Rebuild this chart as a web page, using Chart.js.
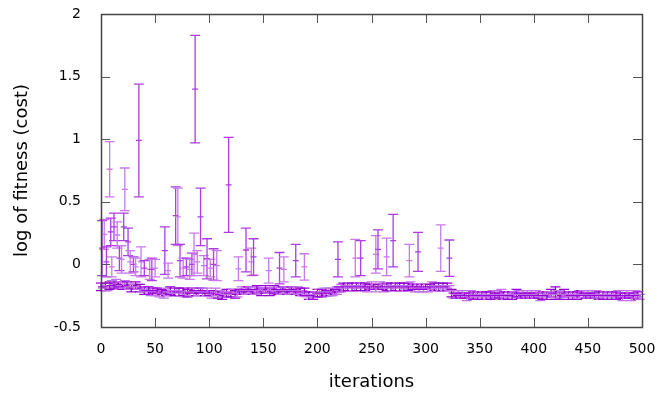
<!DOCTYPE html>
<html>
<head>
<meta charset="utf-8">
<script src="https://cdn.jsdelivr.net/npm/chart.js@4.4.1/dist/chart.umd.min.js"></script>
<style>
  html, body { margin: 0; padding: 0; background: #fff; }
  #wrap { width: 658px; height: 393px; }
</style>
</head>
<body>
<div id="wrap"><canvas id="fitnessChart" width="658" height="393"></canvas></div>
<script>
// baseline run: one value every 2 iterations, starting at 0
var baseStart = 0;
var baseStep = 2;
var baseMean = [
  -0.18,-0.17,-0.18,-0.19,-0.17,-0.16,-0.17,-0.15,-0.16,-0.17,-0.18,-0.16,-0.17,-0.18,-0.19,-0.18,-0.17,-0.18,-0.19,-0.20,-0.21,-0.20,-0.21,-0.22,-0.21,
  -0.22,-0.21,-0.23,-0.22,-0.24,-0.23,-0.22,-0.21,-0.23,-0.22,-0.21,-0.22,-0.23,-0.22,-0.24,-0.23,-0.22,-0.21,-0.22,-0.23,-0.22,-0.21,-0.22,-0.23,-0.22,
  -0.23,-0.24,-0.23,-0.22,-0.24,-0.23,-0.25,-0.24,-0.23,-0.24,-0.23,-0.22,-0.24,-0.23,-0.22,-0.21,-0.22,-0.21,-0.20,-0.21,-0.22,-0.21,-0.20,-0.21,-0.22,
  -0.21,-0.20,-0.21,-0.22,-0.21,-0.20,-0.21,-0.22,-0.21,-0.20,-0.21,-0.22,-0.21,-0.20,-0.21,-0.22,-0.21,-0.22,-0.23,-0.22,-0.24,-0.25,-0.26,-0.25,-0.24,
  -0.23,-0.22,-0.23,-0.22,-0.23,-0.22,-0.23,-0.22,-0.22,-0.21,-0.20,-0.19,-0.18,-0.19,-0.18,-0.17,-0.18,-0.19,-0.18,-0.17,-0.18,-0.17,-0.18,-0.19,-0.18,
  -0.17,-0.18,-0.19,-0.18,-0.17,-0.18,-0.19,-0.18,-0.17,-0.18,-0.19,-0.18,-0.17,-0.18,-0.19,-0.18,-0.19,-0.18,-0.17,-0.18,-0.19,-0.18,-0.19,-0.18,-0.19,
  -0.18,-0.19,-0.18,-0.17,-0.18,-0.19,-0.18,-0.19,-0.18,-0.19,-0.18,-0.19,-0.23,-0.24,-0.25,-0.24,-0.25,-0.24,-0.25,-0.26,-0.25,-0.24,-0.25,-0.24,-0.25,
  -0.24,-0.25,-0.24,-0.25,-0.26,-0.25,-0.24,-0.25,-0.24,-0.25,-0.24,-0.25,-0.26,-0.25,-0.24,-0.25,-0.24,-0.23,-0.24,-0.25,-0.24,-0.25,-0.24,-0.25,-0.24,
  -0.25,-0.24,-0.25,-0.26,-0.25,-0.24,-0.25,-0.24,-0.23,-0.24,-0.23,-0.24,-0.25,-0.24,-0.23,-0.24,-0.25,-0.24,-0.25,-0.24,-0.25,-0.24,-0.23,-0.24,-0.25,
  -0.24,-0.25,-0.24,-0.25,-0.24,-0.25,-0.26,-0.25,-0.24,-0.25,-0.24,-0.25,-0.24,-0.25,-0.24,-0.25,-0.26,-0.25,-0.24,-0.25,-0.26,-0.25,-0.24,-0.25,-0.26
];
var baseErr = [
  0.03,0.02,0.03,0.02,0.03,0.03,0.02,0.03,0.02,0.03,0.02,0.03,0.03,0.02,0.03,0.02,0.03,0.02,0.03,0.02,0.03,0.02,0.03,0.03,0.02,
  0.03,0.02,0.03,0.02,0.03,0.02,0.03,0.03,0.02,0.03,0.02,0.03,0.02,0.03,0.02,0.03,0.03,0.02,0.03,0.02,0.03,0.02,0.03,0.02,0.03,
  0.02,0.03,0.02,0.03,0.03,0.02,0.03,0.02,0.03,0.02,0.03,0.02,0.03,0.03,0.02,0.03,0.02,0.03,0.02,0.03,0.02,0.03,0.03,0.02,0.03,
  0.02,0.03,0.02,0.03,0.02,0.03,0.03,0.02,0.03,0.02,0.03,0.02,0.03,0.02,0.03,0.02,0.03,0.03,0.02,0.03,0.02,0.03,0.02,0.03,0.02,
  0.03,0.02,0.03,0.03,0.02,0.03,0.02,0.03,0.02,0.03,0.02,0.03,0.03,0.02,0.03,0.02,0.03,0.02,0.03,0.02,0.03,0.02,0.03,0.03,0.02,
  0.03,0.02,0.03,0.02,0.03,0.02,0.03,0.03,0.02,0.03,0.02,0.03,0.02,0.03,0.02,0.03,0.02,0.03,0.03,0.02,0.03,0.02,0.03,0.02,0.03,
  0.02,0.03,0.02,0.03,0.03,0.02,0.03,0.02,0.03,0.02,0.03,0.02,0.03,0.03,0.02,0.03,0.02,0.03,0.02,0.03,0.02,0.03,0.03,0.02,0.03,
  0.02,0.03,0.02,0.03,0.02,0.03,0.03,0.02,0.03,0.02,0.04,0.03,0.02,0.03,0.02,0.03,0.02,0.03,0.03,0.02,0.03,0.02,0.03,0.02,0.03,
  0.02,0.03,0.02,0.03,0.03,0.02,0.03,0.02,0.03,0.02,0.05,0.03,0.03,0.02,0.03,0.02,0.03,0.02,0.03,0.02,0.03,0.03,0.02,0.03,0.02,
  0.03,0.02,0.03,0.02,0.03,0.03,0.02,0.03,0.02,0.03,0.02,0.03,0.02,0.03,0.03,0.02,0.03,0.02,0.03,0.02,0.03,0.02,0.03,0.03,0.02
];

// noisy evaluations with large spread
var spikeIter = [1,3,5,8,9,10,12,15,17,19,21,22,25,27,30,32,35,37,40,45,47,50,59,62,69,71,73,76,79,82,84,86,87,89,92,95,98,101,104,107,118,127,134,139,141,155,165,169,180,188,219,235,240,254,256,264,270,285,293,314,322];
var spikeMean = [0.13,0.24,0.02,0.76,0.26,-0.02,0.30,0.235,0.05,0.04,0.30,0.60,0.18,0.02,0.0,-0.02,0.99,0.02,-0.03,-0.04,-0.04,-0.03,0.11,-0.05,0.39,0.38,0.03,-0.03,-0.02,-0.04,0.0,0.08,1.40,0.02,0.38,-0.01,0.045,-0.03,0.0,-0.01,0.635,-0.035,0.115,0.02,0.06,-0.05,-0.03,-0.04,0.03,-0.02,0.04,0.05,0.05,0.08,0.12,0.06,0.19,0.03,0.10,0.13,0.05];
var spikeErr = [0.22,0.12,0.12,0.22,0.11,0.08,0.11,0.105,0.10,0.11,0.11,0.17,0.11,0.09,0.06,0.07,0.45,0.12,0.06,0.08,0.09,0.07,0.19,0.06,0.23,0.23,0.13,0.08,0.07,0.08,0.09,0.17,0.43,0.09,0.23,0.08,0.16,0.07,0.125,0.12,0.38,0.095,0.175,0.11,0.145,0.10,0.125,0.10,0.13,0.105,0.14,0.15,0.14,0.15,0.155,0.15,0.21,0.13,0.155,0.185,0.145];

var xTicksMin = 0, xTicksMax = 500, xTicksStep = 50;
var yTicksMin = -0.5, yTicksMax = 2, yTicksStep = 0.5;

var baseShades = ['#9400d3', '#c070e8'];
var spikeShades = ['#ad3ce4', '#c77aec'];

var basePoints = baseMean.map(function (v, i) { return { x: baseStart + i * baseStep, y: v }; });
var spikePoints = spikeMean.map(function (v, i) { return { x: spikeIter[i], y: v }; });
var baseColors = basePoints.map(function (p, i) { return baseShades[i % 2]; });
var spikeColors = spikePoints.map(function (p, i) { return spikeShades[i % 2]; });

// draws the vertical bar + caps + centre mark for every point, using the chart scales
var errorBars = {
    id: 'errorBars',
    beforeDatasetsDraw: function (chart) {
        var ctx = chart.ctx;
        var xs = chart.scales.x, ys = chart.scales.y;
        ctx.save();
        ctx.lineWidth = 1.3;
        chart.data.datasets.forEach(function (ds) {
            ds.data.forEach(function (p, i) {
                var e = ds.errors[i];
                var px = xs.getPixelForValue(p.x);
                var mid = ys.getPixelForValue(p.y);
                var top = ys.getPixelForValue(p.y + e);
                var bot = ys.getPixelForValue(p.y - e);
                ctx.strokeStyle = ds.pointBorderColor[i];
                ctx.beginPath();
                ctx.moveTo(px, top); ctx.lineTo(px, bot);
                ctx.moveTo(px - 5, top); ctx.lineTo(px + 5, top);
                ctx.moveTo(px - 5, bot); ctx.lineTo(px + 5, bot);
                ctx.moveTo(px - 3, mid); ctx.lineTo(px + 3, mid);
                ctx.stroke();
            });
        });
        ctx.restore();
    }
};

// gnuplot style box with inward ticks on all four sides
var frame = {
    id: 'frame',
    afterDraw: function (chart) {
        var ctx = chart.ctx, a = chart.chartArea;
        var xs = chart.scales.x, ys = chart.scales.y;
        ctx.save();
        ctx.strokeStyle = '#555';
        ctx.lineWidth = 1;
        ctx.beginPath();
        ys.ticks.forEach(function (t) {
            var y = Math.round(ys.getPixelForValue(t.value)) + 0.5;
            ctx.moveTo(a.left, y); ctx.lineTo(a.left + 9, y);
            ctx.moveTo(a.right, y); ctx.lineTo(a.right - 9, y);
        });
        xs.ticks.forEach(function (t) {
            var x = Math.round(xs.getPixelForValue(t.value)) + 0.5;
            ctx.moveTo(x, a.bottom); ctx.lineTo(x, a.bottom - 9);
            ctx.moveTo(x, a.top); ctx.lineTo(x, a.top + 9);
        });
        ctx.stroke();
        ctx.lineWidth = 1.5;
        ctx.strokeStyle = '#444';
        ctx.strokeRect(Math.round(a.left) + 0.5, Math.round(a.top) + 0.5, Math.round(a.right - a.left), Math.round(a.bottom - a.top));
        ctx.restore();
    }
};

var ctx = document.getElementById('fitnessChart').getContext('2d');
var fitnessChart = new Chart(ctx, {
    type: 'scatter',
    data: {
        datasets: [{
            data: basePoints,
            errors: baseErr,
            pointRadius: 0,
            pointBorderColor: baseColors
        }, {
            data: spikePoints,
            errors: spikeErr,
            pointRadius: 0,
            pointBorderColor: spikeColors
        }]
    },
    options: {
        responsive: false,
        animation: false,
        events: [],
        layout: { padding: { top: 14, right: 16, left: 0, bottom: 0 } },
        plugins: {
            legend: { display: false },
            tooltip: { enabled: false }
        },
        scales: {
            x: {
                type: 'linear',
                min: xTicksMin, max: xTicksMax,
                grid: { display: false },
                border: { display: false },
                ticks: {
                    stepSize: xTicksStep,
                    padding: 6,
                    color: '#000',
                    font: { family: 'DejaVu Sans', size: 14 },
                    maxRotation: 0
                },
                title: {
                    display: true,
                    text: 'iterations',
                    color: '#000',
                    font: { family: 'DejaVu Sans', size: 18 },
                    padding: { top: 0, bottom: 0 }
                },
                afterFit: function (s) { s.height = 66; s.paddingLeft = 0; s.paddingRight = 0; }
            },
            y: {
                min: yTicksMin, max: yTicksMax,
                grid: { display: false },
                border: { display: false },
                ticks: {
                    stepSize: yTicksStep,
                    padding: 12,
                    color: '#000',
                    font: { family: 'DejaVu Sans', size: 14 },
                    callback: function (v) { return String(+v.toFixed(2)); }
                },
                title: {
                    display: true,
                    text: 'log of fitness (cost)',
                    color: '#000',
                    font: { family: 'DejaVu Sans', size: 18 },
                    padding: { top: 12, bottom: 0 }
                },
                afterFit: function (s) { s.width = 101; s.paddingTop = 0; s.paddingBottom = 0; }
            }
        }
    },
    plugins: [errorBars, frame]
});
</script>
</body>
</html>
